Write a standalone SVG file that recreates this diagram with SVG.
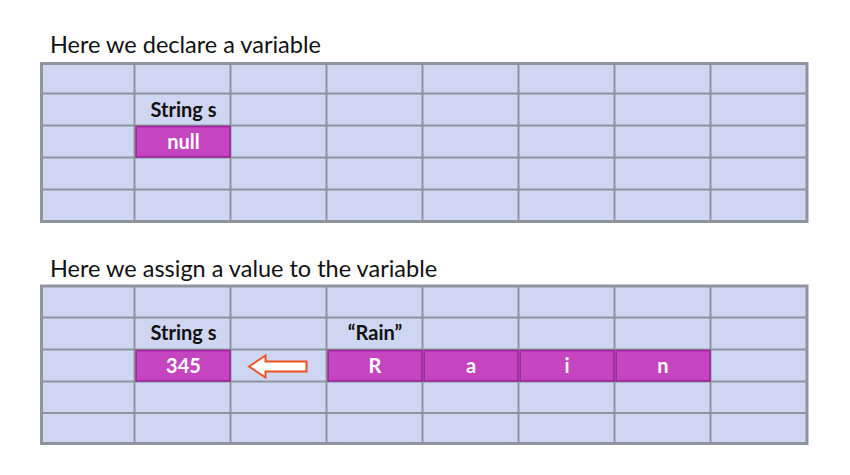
<svg xmlns="http://www.w3.org/2000/svg" width="850" height="475" viewBox="0 0 850 475">
<style>
.title{font-family:Lato,"Liberation Sans",sans-serif;font-size:23.5px;fill:#111}
.grid{fill:#cfd6f2;stroke:#8e939e;stroke-width:2}
.border{fill:none;stroke:#8e939e;stroke-width:3}
.mag{fill:#c445bf;stroke:#9c1f9c;stroke-width:1.5}
.lbl{font-family:Lato,"Liberation Sans",sans-serif;font-size:20px;font-weight:bold;fill:#111;text-anchor:middle}
.val{font-family:Lato,"Liberation Sans",sans-serif;font-size:20px;font-weight:bold;fill:#fff;text-anchor:middle}
</style>
<rect width="850" height="475" fill="#fff"/>
<text class="title" x="50" y="53">Here we declare a variable</text>
<text class="title" x="50" y="277">Here we assign a value to the variable</text>
<g id="grid1">
<rect class="grid" x="41.5" y="63.5" width="765.5" height="158"/>
<path d="M134.5 63.5V221.5M230.5 63.5V221.5M326.5 63.5V221.5M422.5 63.5V221.5M518.5 63.5V221.5M614.5 63.5V221.5M710.5 63.5V221.5M41.5 93.5H807M41.5 125.5H807M41.5 157.5H807M41.5 189.5H807" stroke="#8e939e" stroke-width="2" fill="none"/>
<rect class="border" x="41.5" y="63.5" width="765.5" height="158"/>
</g>
<g id="grid2">
<rect class="grid" x="41.5" y="286" width="765.5" height="157.5"/>
<path d="M134.5 286V443.5M230.5 286V443.5M326.5 286V443.5M422.5 286V443.5M518.5 286V443.5M614.5 286V443.5M710.5 286V443.5M41.5 317.5H807M41.5 349.5H807M41.5 381.5H807M41.5 413H807" stroke="#8e939e" stroke-width="2" fill="none"/>
<rect class="border" x="41.5" y="286" width="765.5" height="157.5"/>
</g>
<g id="var1">
<text class="lbl" x="183.5" y="117">String s</text>
<rect class="mag" x="136" y="126.5" width="94" height="30.5"/>
<text class="val" x="183.5" y="149">null</text>
</g>
<g id="var2">
<text class="lbl" x="183.5" y="340">String s</text>
<rect class="mag" x="136" y="350.5" width="94" height="30.5"/>
<text class="val" x="183.5" y="372.5">345</text>
</g>
<g id="rain">
<text class="lbl" x="375" y="340">“Rain”</text>
<rect class="mag" x="328" y="350.5" width="94" height="30.5"/>
<text class="val" x="375" y="372.5">R</text>
<rect class="mag" x="424" y="350.5" width="94" height="30.5"/>
<text class="val" x="471" y="372.5">a</text>
<rect class="mag" x="520" y="350.5" width="94" height="30.5"/>
<text class="val" x="567" y="372.5">i</text>
<rect class="mag" x="616" y="350.5" width="94" height="30.5"/>
<text class="val" x="663" y="372.5">n</text>
</g>
<g id="connectors">
<path d="M249 366.5L265.5 355.5V361.5H306.5V371.5H265.5V377.5Z" fill="#fff" stroke="#f0501e" stroke-width="2" stroke-linejoin="miter"/>
</g>
</svg>
